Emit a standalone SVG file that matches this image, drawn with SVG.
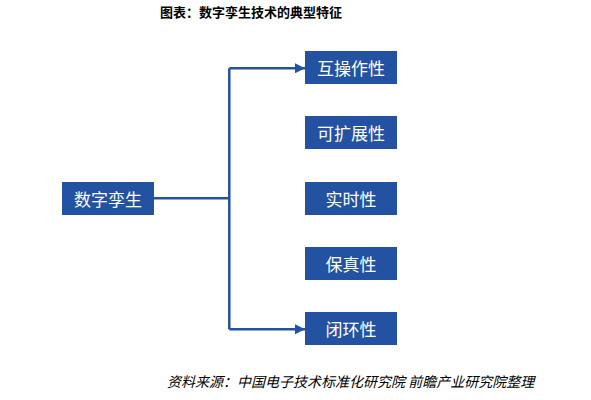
<svg xmlns="http://www.w3.org/2000/svg" width="591" height="400" viewBox="0 0 591 400">
<style>
.box{fill:#2352A2;}
.lbl{font-family:"Noto Sans CJK SC","Noto Sans",sans-serif;font-size:17px;fill:#fff;text-anchor:middle;dominant-baseline:central;}
.con{fill:none;stroke:#2352A2;stroke-width:2.5;}
</style>
<defs>
<marker id="ah" viewBox="0 0 10 10" refX="10" refY="5" markerWidth="4" markerHeight="4" markerUnits="strokeWidth" orient="auto"><path d="M0,0L10,5L0,10z" fill="#2352A2"/></marker>
</defs>
<rect width="591" height="400" fill="#fff"/>
<text x="251" y="17" font-family="Noto Sans CJK SC,sans-serif" font-weight="bold" font-size="13" fill="#000" text-anchor="middle">图表：数字孪生技术的典型特征</text>
<g id="connectors">
<path class="con" d="M154,198.3H229.3"/>
<path class="con" d="M229.3,68.3V329.3"/>
<path class="con" d="M229.3,68.3H305" marker-end="url(#ah)"/>
<path class="con" d="M229.3,329.3H305" marker-end="url(#ah)"/>
</g>
<g id="n0"><rect class="box" x="62" y="182" width="92" height="33"/><text class="lbl" x="108" y="198.5">数字孪生</text></g>
<g id="n1"><rect class="box" x="305" y="51" width="92" height="33"/><text class="lbl" x="351" y="67.5">互操作性</text></g>
<g id="n2"><rect class="box" x="305" y="116" width="92" height="33"/><text class="lbl" x="351" y="132.5">可扩展性</text></g>
<g id="n3"><rect class="box" x="305" y="182" width="92" height="33"/><text class="lbl" x="351" y="198.5">实时性</text></g>
<g id="n4"><rect class="box" x="305" y="247" width="92" height="33"/><text class="lbl" x="351" y="263.5">保真性</text></g>
<g id="n5"><rect class="box" x="305" y="312" width="92" height="33"/><text class="lbl" x="351" y="328.5">闭环性</text></g>
<text x="167" y="387" font-family="Noto Sans CJK SC,sans-serif" font-style="italic" font-size="14" fill="#000">资料来源：中国电子技术标准化研究院 前瞻产业研究院整理</text>
</svg>
